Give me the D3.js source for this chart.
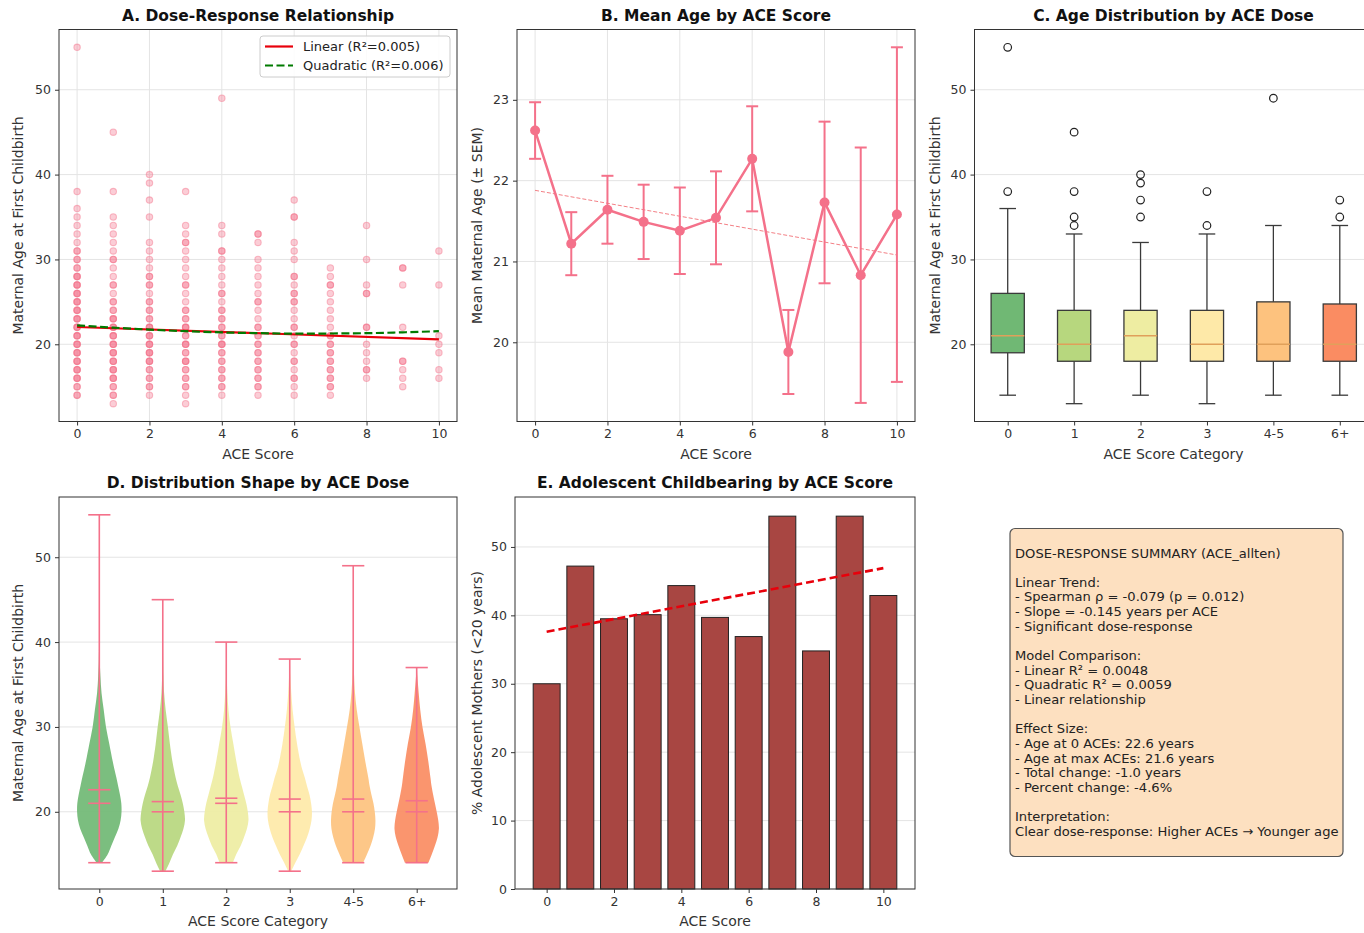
<!DOCTYPE html>
<html>
<head>
<meta charset="utf-8">
<style>
body { margin: 0; background: #fff; }
svg text { font-family: "DejaVu Sans", sans-serif; fill: #222; }
.tick text { font-size: 12.5px; fill: #333; }
.tick line { stroke: #333; }
.title { font-size: 15.5px; font-weight: bold; fill: #111; }
.label { font-size: 14px; fill: #333; }
.grid line { stroke: #e4e4e4; stroke-width: 1; }
</style>
</head>
<body>

<div id="diagram"></div>

<script src="https://cdn.jsdelivr.net/npm/d3@7"></script>
<script>

// ---- data ----
var aceScores = [0, 1, 2, 3, 4, 5, 6, 7, 8, 9, 10];

// maternal age at first childbirth, one list per ACE score (repeats = overlapping points)
var scatterAges = [
	[55,38,36,35,34,33,32,31,31,30,30,29,29,28,28,28,27,27,27,26,26,26,25,25,25,24,24,24,23,23,23,22,22,22,21,21,21,20,20,20,19,19,19,18,18,18,17,17,17,16,16,16,15,15,14,14],
	[45,38,35,34,33,32,31,30,30,29,28,27,27,26,25,25,24,24,23,23,23,22,22,22,21,21,21,20,20,20,19,19,19,18,18,18,17,17,17,16,16,16,15,15,14,14,13],
	[40,39,37,35,32,31,30,29,28,28,27,27,26,25,25,24,24,23,23,22,22,22,21,21,21,20,20,20,19,19,19,18,18,18,17,17,16,16,15,15,14],
	[38,34,33,32,32,31,30,29,28,27,27,26,25,24,24,23,23,22,22,22,21,21,20,20,20,19,19,18,18,18,17,17,16,16,15,15,14,13],
	[49,34,33,31,31,30,29,28,27,26,26,25,24,24,23,23,22,22,21,21,20,20,20,19,19,18,18,17,17,16,16,15,15,14],
	[33,33,32,30,29,28,27,26,25,25,24,23,22,22,21,21,20,20,19,19,18,18,17,17,16,16,15,15,14],
	[37,35,35,32,31,30,28,28,27,26,26,25,25,24,23,22,22,21,20,20,19,18,18,17,16,16,15,14],
	[29,28,27,27,26,25,24,23,22,21,21,20,20,19,19,18,18,17,17,16,16,15,15,14],
	[34,30,27,26,26,22,22,20,19,18,17,17,16],
	[29,29,27,22,18,18,17,16,15],
	[31,27,21,20,19,17,16]
];
var linearFit = [22.04, 20.59];     // at ACE 0 and ACE 10
var quadFit = [22.24, 21.96, 21.73, 21.54, 21.40, 21.31, 21.26, 21.27, 21.31, 21.41, 21.54];

var meanAge = [22.62, 21.22, 21.64, 21.49, 21.38, 21.54, 22.27, 19.88, 21.73, 20.83, 21.58];
var semAge  = [0.35, 0.39, 0.42, 0.46, 0.535, 0.575, 0.65, 0.52, 1.0, 1.58, 2.07];
var meanTrend = [21.88, 21.08];     // at ACE 0 and ACE 10

var doseCats = ['0', '1', '2', '3', '4-5', '6+'];
var doseColors = ['#70b874', '#b7d77e', '#eeeda2', '#fee9a8', '#fdc27e', '#fa8c62'];

var boxLow  = [14, 13, 14, 13, 14, 14];
var boxQ1   = [19, 18, 18, 18, 18, 18];
var boxMed  = [21, 20, 21, 20, 20, 20];
var boxQ3   = [26, 24, 24, 24, 25, 24.75];
var boxHigh = [36, 33, 32, 33, 34, 34];
var boxOutliers = [[38, 55], [34, 35, 38, 45], [35, 37, 39, 40], [34, 38], [49], [35, 37]];

var violinMin = [14, 13, 14, 13, 14, 14];
var violinMax = [55, 45, 40, 38, 49, 37];
var violinMean = [22.6, 21.2, 21.6, 21.5, 21.5, 21.3];
var violinMedian = [21, 20, 21, 20, 20, 20];
// [age, relative width]
var violinProfiles = [
	[[14,.12],[15,.38],[16,.54],[17,.7],[18,.86],[19,.96],[20,1],[21,.99],[22,.93],[23,.85],[24,.77],[25,.68],[26,.6],[28,.45],[30,.3],[32,.2],[34,.1],[36,.05],[38,.02],[42,.006],[48,.002],[55,0]],
	[[13,.12],[14,.3],[15,.46],[16,.65],[17,.8],[18,.93],[19,1],[20,.97],[21,.9],[22,.8],[23,.68],[24,.58],[25,.5],[26,.43],[28,.32],[30,.23],[32,.13],[34,.06],[36,.03],[40,.01],[45,0]],
	[[14,.3],[15,.45],[16,.65],[17,.8],[18,.93],[19,1],[20,.97],[21,.9],[22,.8],[23,.7],[24,.6],[26,.45],[28,.32],[30,.19],[32,.1],[34,.05],[36,.02],[40,0]],
	[[13,.07],[14,.25],[15,.45],[16,.62],[17,.78],[18,.9],[19,.98],[20,1],[21,.96],[22,.89],[23,.78],[24,.68],[25,.56],[26,.47],[28,.33],[30,.22],[32,.13],[34,.07],[36,.03],[38,.01]],
	[[14,.45],[15,.62],[16,.78],[17,.9],[18,.98],[19,1],[20,.97],[21,.91],[22,.82],[23,.74],[24,.68],[26,.54],[28,.41],[30,.28],[32,.16],[34,.08],[36,.04],[40,.01],[44,.003],[49,0]],
	[[14,.53],[15,.68],[16,.82],[17,.94],[18,1],[19,.97],[20,.9],[21,.82],[22,.74],[23,.67],[24,.62],[26,.52],[28,.4],[30,.26],[32,.16],[34,.09],[36,.03],[37,.01]]
];

var adolPct = [30.0, 47.2, 39.5, 40.1, 44.35, 39.7, 36.9, 54.5, 34.8, 54.5, 42.9];
var adolTrend = [37.6, 46.9];       // at ACE 0 and ACE 10

var summaryLines = [
	'DOSE-RESPONSE SUMMARY (ACE_allten)',
	'',
	'Linear Trend:',
	'- Spearman \u03c1 = -0.079 (p = 0.012)',
	'- Slope = -0.145 years per ACE',
	'- Significant dose-response',
	'',
	'Model Comparison:',
	'- Linear R\u00b2 = 0.0048',
	'- Quadratic R\u00b2 = 0.0059',
	'- Linear relationship',
	'',
	'Effect Size:',
	'- Age at 0 ACEs: 22.6 years',
	'- Age at max ACEs: 21.6 years',
	'- Total change: -1.0 years',
	'- Percent change: -4.6%',
	'',
	'Interpretation:',
	'Clear dose-response: Higher ACEs \u2192 Younger age'
];

var pink = '#f4718a';

// ---- helpers ----
var svg = d3.select('#diagram')
	.append('svg')
		.attr('width', 1364)
		.attr('height', 933);

function make_panel( box, xDomain, yDomain )
{
	var p = { w: box.right - box.left, h: box.bottom - box.top };
	p.g = svg.append('g').attr('transform', 'translate(' + box.left + ',' + box.top + ')');
	p.x = d3.scaleLinear().domain(xDomain).range([0, p.w]);
	p.y = d3.scaleLinear().domain(yDomain).range([p.h, 0]);
	p.gridG = p.g.append('g').attr('class', 'grid');
	p.plot = p.g.append('g');
	return p;
}

function grid( p, xticks, yticks )
{
	if( xticks )
		p.gridG.selectAll('.gx').data(xticks).enter().append('line')
			.attr('x1', function(d) { return p.x(d); }).attr('x2', function(d) { return p.x(d); })
			.attr('y1', 0).attr('y2', p.h);
	if( yticks )
		p.gridG.selectAll('.gy').data(yticks).enter().append('line')
			.attr('y1', function(d) { return p.y(d); }).attr('y2', function(d) { return p.y(d); })
			.attr('x1', 0).attr('x2', p.w);
}

function axes( p, xticks, yticks, xfmt )
{
	var xa = d3.axisBottom(p.x).tickValues(xticks).tickSize(4).tickPadding(4);
	if( xfmt ) xa.tickFormat(xfmt);
	p.g.append('g').attr('transform', 'translate(0,' + p.h + ')').call(xa)
		.call(function(g) { g.select('.domain').remove(); });
	p.g.append('g').call(d3.axisLeft(p.y).tickValues(yticks).tickFormat(d3.format('d')).tickSize(4).tickPadding(4))
		.call(function(g) { g.select('.domain').remove(); });
	p.g.append('rect')
		.attr('width', p.w).attr('height', p.h)
		.attr('fill', 'none').attr('stroke', '#333').attr('stroke-width', 1);
}

function labels( p, title, xlab, ylab, ylabX, cx )
{
	if( cx === undefined ) cx = p.w / 2;
	p.g.append('text').attr('class', 'title')
		.attr('x', cx).attr('y', -9).attr('text-anchor', 'middle').text(title);
	p.g.append('text').attr('class', 'label')
		.attr('x', cx).attr('y', p.h + 37).attr('text-anchor', 'middle').text(xlab);
	p.g.append('text').attr('class', 'label')
		.attr('text-anchor', 'middle')
		.attr('transform', 'translate(' + ylabX + ',' + (p.h / 2) + ') rotate(-90)')
		.attr('dy', '0.35em')
		.text(ylab);
}

// ---- A. scatter ----
var A = make_panel({ left: 59, right: 457, top: 29.5, bottom: 421.5 }, [-0.5, 10.5], [10.9, 57.1]);
grid(A, [0, 2, 4, 6, 8, 10], [20, 30, 40, 50]);

var pts = [];
scatterAges.forEach(function(col, i) { col.forEach(function(a) { pts.push({ ace: aceScores[i], age: a }); }); });

A.plot.selectAll('circle').data(pts).enter().append('circle')
	.attr('cx', function(d) { return A.x(d.ace); })
	.attr('cy', function(d) { return A.y(d.age); })
	.attr('r', 3.2)
	.attr('fill', pink).attr('fill-opacity', 0.35)
	.attr('stroke', pink).attr('stroke-opacity', 0.45).attr('stroke-width', 1.1);

A.plot.append('line')
	.attr('x1', A.x(0)).attr('x2', A.x(10))
	.attr('y1', A.y(linearFit[0])).attr('y2', A.y(linearFit[1]))
	.attr('stroke', '#e8000b').attr('stroke-width', 2.2);

A.plot.append('path')
	.datum(quadFit)
	.attr('d', d3.line().x(function(d, i) { return A.x(aceScores[i]); }).y(function(d) { return A.y(d); }).curve(d3.curveMonotoneX))
	.attr('fill', 'none').attr('stroke', '#007a00').attr('stroke-width', 2.2).attr('stroke-dasharray', '8,3.5');

var leg = A.g.append('g').attr('transform', 'translate(201,6.5)');
leg.append('rect').attr('width', 190).attr('height', 41).attr('rx', 3)
	.attr('fill', '#fff').attr('fill-opacity', 0.85).attr('stroke', '#ccc');
leg.append('line').attr('x1', 5).attr('x2', 33).attr('y1', 10.5).attr('y2', 10.5).attr('stroke', '#e8000b').attr('stroke-width', 2.2);
leg.append('line').attr('x1', 5).attr('x2', 33).attr('y1', 29.5).attr('y2', 29.5).attr('stroke', '#007a00').attr('stroke-width', 2.2).attr('stroke-dasharray', '8,3.5');
leg.append('text').attr('x', 43).attr('y', 15).style('font-size', '13px').text('Linear (R\u00b2=0.005)');
leg.append('text').attr('x', 43).attr('y', 34).style('font-size', '13px').text('Quadratic (R\u00b2=0.006)');

axes(A, [0, 2, 4, 6, 8, 10], [20, 30, 40, 50]);
labels(A, 'A. Dose-Response Relationship', 'ACE Score', 'Maternal Age at First Childbirth', -41);

// ---- B. mean +- SEM ----
var B = make_panel({ left: 517, right: 915, top: 29.5, bottom: 421.5 }, [-0.5, 10.5], [19.02, 23.87]);
grid(B, [0, 2, 4, 6, 8, 10], [20, 21, 22, 23]);

B.plot.append('line')
	.attr('x1', B.x(0)).attr('x2', B.x(10))
	.attr('y1', B.y(meanTrend[0])).attr('y2', B.y(meanTrend[1]))
	.attr('stroke', '#e8000b').attr('stroke-opacity', 0.5).attr('stroke-width', 1).attr('stroke-dasharray', '4,2');

var eb = B.plot.selectAll('.eb').data(meanAge).enter().append('g');
eb.append('line')
	.attr('x1', function(d, i) { return B.x(aceScores[i]); }).attr('x2', function(d, i) { return B.x(aceScores[i]); })
	.attr('y1', function(d, i) { return B.y(d - semAge[i]); }).attr('y2', function(d, i) { return B.y(d + semAge[i]); });
eb.append('line')
	.attr('x1', function(d, i) { return B.x(aceScores[i]) - 6; }).attr('x2', function(d, i) { return B.x(aceScores[i]) + 6; })
	.attr('y1', function(d, i) { return B.y(d - semAge[i]); }).attr('y2', function(d, i) { return B.y(d - semAge[i]); });
eb.append('line')
	.attr('x1', function(d, i) { return B.x(aceScores[i]) - 6; }).attr('x2', function(d, i) { return B.x(aceScores[i]) + 6; })
	.attr('y1', function(d, i) { return B.y(d + semAge[i]); }).attr('y2', function(d, i) { return B.y(d + semAge[i]); });
eb.selectAll('line').attr('stroke', pink).attr('stroke-width', 2);

B.plot.append('path').datum(meanAge)
	.attr('d', d3.line().x(function(d, i) { return B.x(aceScores[i]); }).y(function(d) { return B.y(d); }))
	.attr('fill', 'none').attr('stroke', pink).attr('stroke-width', 2.5);
B.plot.selectAll('.m').data(meanAge).enter().append('circle')
	.attr('cx', function(d, i) { return B.x(aceScores[i]); })
	.attr('cy', function(d) { return B.y(d); })
	.attr('r', 5).attr('fill', pink);

axes(B, [0, 2, 4, 6, 8, 10], [20, 21, 22, 23]);
labels(B, 'B. Mean Age by ACE Score', 'ACE Score', 'Mean Maternal Age (\u00b1 SEM)', -40);

// ---- C. boxplots ----
var C = make_panel({ left: 974.5, right: 1373, top: 29.5, bottom: 421.5 }, [0.5, 6.5], [10.9, 57.1]);
grid(C, null, [20, 30, 40, 50]);
var bw = C.x(1.25) - C.x(1), cw = C.x(1.125) - C.x(1);

doseCats.forEach(function(c, i)
{
	var cx = C.x(i + 1);
	var g = C.plot.append('g');
	g.append('line').attr('x1', cx).attr('x2', cx).attr('y1', C.y(boxLow[i])).attr('y2', C.y(boxQ1[i]));
	g.append('line').attr('x1', cx).attr('x2', cx).attr('y1', C.y(boxQ3[i])).attr('y2', C.y(boxHigh[i]));
	g.append('line').attr('x1', cx - cw).attr('x2', cx + cw).attr('y1', C.y(boxLow[i])).attr('y2', C.y(boxLow[i]));
	g.append('line').attr('x1', cx - cw).attr('x2', cx + cw).attr('y1', C.y(boxHigh[i])).attr('y2', C.y(boxHigh[i]));
	g.selectAll('line').attr('stroke', '#3a3a3a').attr('stroke-width', 1.3);
	g.append('rect')
		.attr('x', cx - bw).attr('width', 2 * bw)
		.attr('y', C.y(boxQ3[i])).attr('height', C.y(boxQ1[i]) - C.y(boxQ3[i]))
		.attr('fill', doseColors[i]).attr('stroke', '#3a3a3a').attr('stroke-width', 1.3);
	g.append('line').attr('x1', cx - bw).attr('x2', cx + bw).attr('y1', C.y(boxMed[i])).attr('y2', C.y(boxMed[i]))
		.attr('stroke', '#e0a05a').attr('stroke-width', 1.5);
	g.selectAll('.o').data(boxOutliers[i]).enter().append('circle')
		.attr('cx', cx).attr('cy', function(d) { return C.y(d); }).attr('r', 3.8)
		.attr('fill', 'none').attr('stroke', '#222').attr('stroke-width', 1.2);
});

axes(C, [1, 2, 3, 4, 5, 6], [20, 30, 40, 50], function(d) { return doseCats[d - 1]; });
labels(C, 'C. Age Distribution by ACE Dose', 'ACE Score Category', 'Maternal Age at First Childbirth', -39, 199);

// ---- D. violins ----
var D = make_panel({ left: 59, right: 457, top: 497, bottom: 889 }, [0.365, 6.635], [10.9, 57.1]);
grid(D, null, [20, 30, 40, 50]);
var vhw = D.x(0.35) - D.x(0), vcap = D.x(0.175) - D.x(0);

doseCats.forEach(function(c, i)
{
	var pos = i + 1;
	var area = d3.area()
		.y(function(d) { return D.y(d[0]); })
		.x0(function(d) { return D.x(pos) - d[1] * vhw; })
		.x1(function(d) { return D.x(pos) + d[1] * vhw; })
		.curve(d3.curveCatmullRom);
	D.plot.append('path').datum(violinProfiles[i]).attr('d', area)
		.attr('fill', doseColors[i]).attr('fill-opacity', 0.92).attr('stroke', 'none');
	var g = D.plot.append('g');
	var cx = D.x(pos);
	g.append('line').attr('x1', cx).attr('x2', cx).attr('y1', D.y(violinMin[i])).attr('y2', D.y(violinMax[i]));
	[violinMin[i], violinMax[i], violinMean[i], violinMedian[i]].forEach(function(v)
	{
		g.append('line').attr('x1', cx - vcap).attr('x2', cx + vcap).attr('y1', D.y(v)).attr('y2', D.y(v));
	});
	g.selectAll('line').attr('stroke', pink).attr('stroke-width', 1.6);
});

axes(D, [1, 2, 3, 4, 5, 6], [20, 30, 40, 50], function(d) { return doseCats[d - 1]; });
labels(D, 'D. Distribution Shape by ACE Dose', 'ACE Score Category', 'Maternal Age at First Childbirth', -41);

// ---- E. bars ----
var E = make_panel({ left: 515, right: 915, top: 497, bottom: 889 }, [-0.94, 10.94], [0, 57.3]);
grid(E, null, [0, 10, 20, 30, 40, 50]);
var barW = E.x(0.8) - E.x(0);

E.plot.selectAll('rect').data(adolPct).enter().append('rect')
	.attr('x', function(d, i) { return E.x(aceScores[i]) - barW / 2; })
	.attr('width', barW)
	.attr('y', function(d) { return E.y(d); })
	.attr('height', function(d) { return E.y(0) - E.y(d); })
	.attr('fill', '#a84642').attr('stroke', '#222').attr('stroke-width', 1);

E.plot.append('line')
	.attr('x1', E.x(0)).attr('x2', E.x(10))
	.attr('y1', E.y(adolTrend[0])).attr('y2', E.y(adolTrend[1]))
	.attr('stroke', '#e8000b').attr('stroke-width', 2.6).attr('stroke-dasharray', '8,4');

axes(E, [0, 2, 4, 6, 8, 10], [0, 10, 20, 30, 40, 50]);
labels(E, 'E. Adolescent Childbearing by ACE Score', 'ACE Score', '% Adolescent Mothers (<20 years)', -38);

// ---- summary box ----
var S = svg.append('g').attr('transform', 'translate(1010,528.5)');
S.append('rect').attr('width', 333).attr('height', 328).attr('rx', 5)
	.attr('fill', '#fde0c0').attr('stroke', '#555').attr('stroke-width', 1.2);
S.selectAll('text').data(summaryLines).enter().append('text')
	.attr('x', 5)
	.attr('y', function(d, i) { return 29 + i * 14.65; })
	.style('font-size', '13.1px')
	.style('fill', '#222')
	.text(function(d) { return d; });

</script>
</body>
</html>
